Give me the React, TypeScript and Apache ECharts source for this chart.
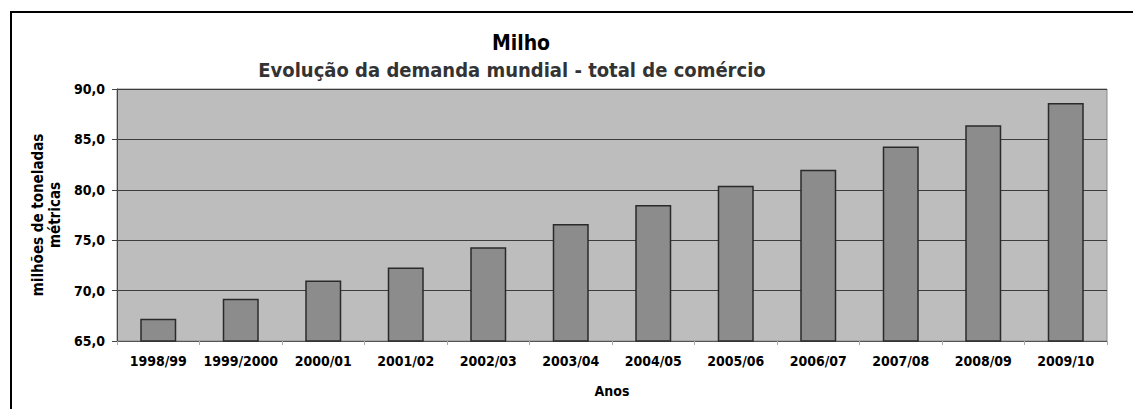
import React, { useEffect, useRef } from "react";
import * as echarts from "echarts";

const categories = [
  "1998/99", "1999/2000", "2000/01", "2001/02", "2002/03", "2003/04",
  "2004/05", "2005/06", "2006/07", "2007/08", "2008/09", "2009/10",
];
const demanda = [67.2, 69.2, 71.0, 72.3, 74.3, 76.6, 78.5, 80.4, 82.0, 84.3, 86.4, 88.6];

const titleText = "Milho";
const subtitleText = "Evolução da demanda mundial - total de comércio";
const yAxisName = "milhões de toneladas\nmétricas";
const xAxisName = "Anos";

const FONT = "'DejaVu Sans Condensed', 'DejaVu Sans', sans-serif";

export default function App() {
  const ref = useRef<HTMLDivElement>(null);
  useEffect(() => {
    if (!ref.current) return;
    const chart = echarts.init(ref.current, null, { renderer: "svg" });
    chart.setOption({
      animation: false,
      backgroundColor: "#ffffff",
      textStyle: { fontFamily: FONT },
      title: [
        {
          text: titleText,
          left: 516,
          top: 27,
          textAlign: "center",
          textStyle: { fontFamily: FONT, fontSize: 21, fontWeight: "bold", color: "#000" },
        },
        {
          text: subtitleText,
          left: 507,
          top: 55,
          textAlign: "center",
          textStyle: { fontFamily: FONT, fontSize: 20, fontWeight: "bold", color: "#333" },
        },
      ],
      graphic: [
        {
          type: "rect",
          shape: { x: 11, y: 12, width: 1300, height: 600 },
          style: { fill: "none", stroke: "#000", lineWidth: 2 },
          silent: true,
          z: 100,
        },
      ],
      grid: {
        left: 117,
        right: 26,
        top: 89,
        bottom: 68,
        show: true,
        backgroundColor: "#bdbdbd",
        borderColor: "#8a8a8a",
        borderWidth: 1,
      },
      xAxis: {
        type: "category",
        data: categories,
        name: xAxisName,
        nameLocation: "middle",
        nameGap: 43,
        nameTextStyle: { fontFamily: FONT, fontSize: 14, fontWeight: "bold", color: "#000" },
        axisLine: { show: true, lineStyle: { color: "#555", width: 1 } },
        axisTick: { show: true, length: 4, lineStyle: { color: "#aaa" } },
        axisLabel: { fontFamily: FONT, fontSize: 14, fontWeight: "bold", color: "#000", margin: 13, interval: 0 },
      },
      yAxis: {
        type: "value",
        min: 65,
        max: 90,
        interval: 5,
        name: yAxisName,
        nameLocation: "middle",
        nameGap: 54,
        nameRotate: 90,
        nameTextStyle: { fontFamily: FONT, fontSize: 15, fontWeight: "bold", color: "#000", lineHeight: 17 },
        axisLine: { show: true, lineStyle: { color: "#444", width: 1 } },
        axisTick: { show: true, length: 5, lineStyle: { color: "#444" } },
        axisLabel: {
          fontFamily: FONT,
          fontSize: 14,
          fontWeight: "bold",
          color: "#000",
          margin: 12,
          formatter: (v: number) => v.toFixed(1).replace(".", ","),
        },
        splitLine: { show: true, lineStyle: { color: "#3c3c3c", width: 1 } },
      },
      series: [
        {
          type: "bar",
          data: demanda,
          barWidth: 36,
          itemStyle: { color: "#8c8c8c", borderColor: "#2a2a2a", borderWidth: 1.5 },
        },
      ],
    });
    return () => chart.dispose();
  }, []);
  return (
    <div
      ref={ref}
      style={{ position: "fixed", left: 0, top: 0, width: 1133, height: 409 }}
    />
  );
}
